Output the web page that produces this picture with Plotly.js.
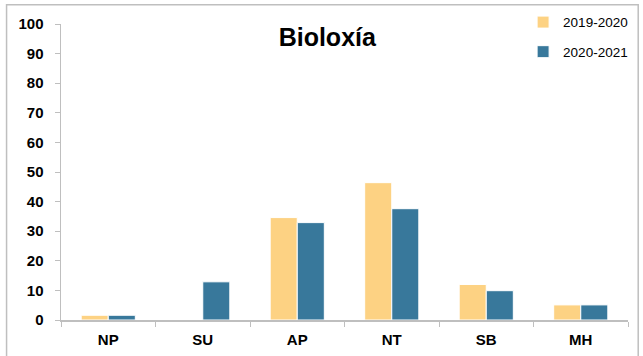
<!DOCTYPE html>
<html>
<head>
<meta charset="utf-8">
<script src="https://cdn.plot.ly/plotly-3.0.1.min.js"></script>
<style>html,body{margin:0;padding:0;background:#fff;}#chart{width:643px;height:356px;}</style>
</head>
<body>
<div id="chart"></div>
<script>
const categories = ["NP", "SU", "AP", "NT", "SB", "MH"];
const series2019 = [1.6, 0, 34.6, 46.4, 12.0, 5.1];
const series2020 = [1.6, 12.9, 32.9, 37.6, 9.9, 5.1];
const seriesNames = ["2019-2020", "2020-2021"];
const yTicks = [0, 10, 20, 30, 40, 50, 60, 70, 80, 90, 100];

const traces = [
  {type: "bar", name: seriesNames[0], x: categories, y: series2019, legendgroup: "a",
   marker: {color: "#FDD283", line: {color: "#FFFFFF", width: 1}}},
  {type: "bar", name: seriesNames[1], x: categories, y: series2020, legendgroup: "b",
   marker: {color: "#38789B", line: {color: "#FFFFFF", width: 1}}}
];

const layout = {
  width: 643, height: 356,
  margin: {l: 61, r: 15, t: 24, b: 36, autoexpand: false},
  paper_bgcolor: "#FFFFFF", plot_bgcolor: "#FFFFFF",
  barmode: "group", bargap: 0.427, bargroupgap: 0,
  font: {family: "Liberation Sans, Arial, sans-serif", color: "#000"},
  title: {text: "<b>Bioloxía</b>", x: 0.509, xanchor: "center", y: 0.895, yanchor: "middle",
          font: {size: 25, family: "Liberation Sans, Arial, sans-serif", color: "#000"}},
  xaxis: {
    type: "category", showline: true, linecolor: "#BFBFBF", linewidth: 1.5,
    ticks: "outside", ticklen: 5, tickcolor: "#BFBFBF", tickson: "boundaries",
    tickfont: {size: 15, family: "Liberation Sans, Arial, sans-serif", weight: "bold"},
    ticklabelstandoff: 5, showgrid: false, zeroline: false
  },
  yaxis: {
    range: [0, 100], tickvals: yTicks, showline: true, linecolor: "#BFBFBF", linewidth: 1.5,
    ticks: "outside", ticklen: 5, tickcolor: "#BFBFBF",
    tickfont: {size: 15, family: "Liberation Sans, Arial, sans-serif", weight: "bold"},
    ticklabelstandoff: 8, showgrid: false, zeroline: false
  },
  showlegend: true,
  legend: {x: 0.815, xanchor: "left", y: 1.058, yanchor: "top", bgcolor: "rgba(0,0,0,0)",
           font: {size: 13.5, family: "Liberation Sans, Arial, sans-serif"},
           tracegroupgap: 9, itemwidth: 30},
  shapes: [
    {type: "rect", xref: "paper", yref: "paper", x0: -0.096, x1: 1.018, y0: -0.2, y1: 1.065,
     line: {color: "#BFBFBF", width: 1.5}, fillcolor: "rgba(0,0,0,0)", layer: "below"}
  ]
};

Plotly.newPlot("chart", traces, layout, {displayModeBar: false, staticPlot: true});
</script>
</body>
</html>
